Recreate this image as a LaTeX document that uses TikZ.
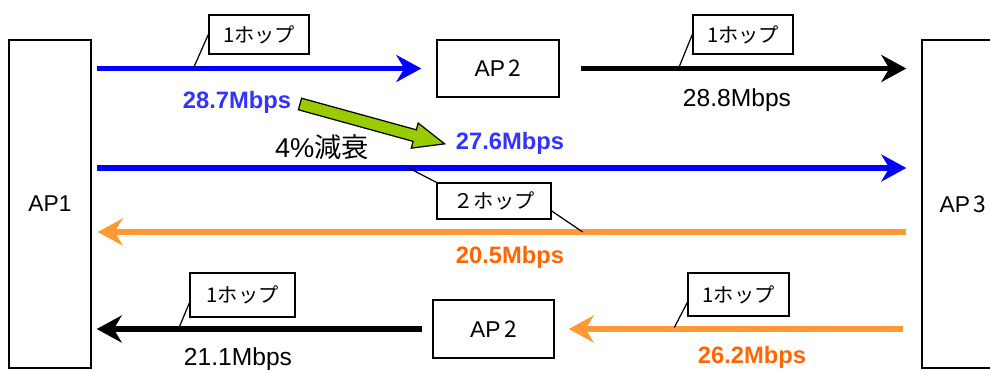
\documentclass[tikz,border=0pt]{standalone}
\usepackage{fontspec}
\setmainfont{Liberation Sans}
\newfontfamily\jp{Noto Sans CJK JP}
\usetikzlibrary{positioning, arrows.meta, calc}
\definecolor{lineblue}{RGB}{0,0,255}
\definecolor{txtblue}{RGB}{51,51,255}
\definecolor{lineorange}{RGB}{255,153,51}
\definecolor{txtorange}{RGB}{255,102,0}
\definecolor{lossgreen}{RGB}{153,204,0}

\begin{document}
\begin{tikzpicture}[
  x=0.02cm, y=-0.02cm,
  >={Stealth[length=0.5cm, width=0.54cm, inset=0.16cm]},
  every node/.style={font=\fontsize{13}{15}\selectfont},
  ap/.style     = {draw, line width=0.8pt, inner sep=0pt, minimum width=2.44cm, minimum height=1.14cm},
  tall/.style   = {ap, minimum width=1.64cm, minimum height=6.56cm},
  hop/.style    = {draw, fill=white, line width=0.8pt, inner sep=0pt, minimum width=2cm, minimum height=0.78cm,
                   font=\jp\fontsize{11.5}{13}\selectfont},
  rate/.style   = {font=\fontsize{13.5}{15}\selectfont\bfseries},
  plain/.style  = {font=\fontsize{14}{16}\selectfont},
  flow/.style   = {->, line width=3pt},
  leader/.style = {line width=0.7pt},
]
  \useasboundingbox (0,0) rectangle (990,369);

  % access points
  \node[tall] (ap1)  at (50,204)    {AP1};
  \node[tall] (ap3)  at (963,204)   {AP\,{\jp 3}};
  \node[ap]   (ap2a) at (498,68.5)  {AP\,{\jp 2}};
  \node[ap, minimum width=2.42cm, minimum height=1.16cm] (ap2b) at (493.5,329) {AP\,{\jp 2}};
  \coordinate (row2) at (0,168);
  \coordinate (row3) at (0,232);

  % flows
  \draw[flow, lineblue, shorten <=0.1cm, shorten >=0.3cm]    (ap1.east |- ap2a.west) -- (ap2a.west);
  \draw[flow, shorten <=0.42cm, shorten >=0.3cm]             (ap2a.east) -- (ap2a.east -| ap3.west);
  \draw[flow, lineblue, shorten <=0.1cm, shorten >=0.3cm]    (ap1.east |- row2) -- (ap3.west |- row2);
  \draw[flow, lineorange, shorten <=0.3cm, shorten >=0.12cm] (ap3.west |- row3) -- (ap1.east |- row3);
  \draw[flow, shorten <=0.2cm, shorten >=0.1cm]              (ap2b.west) -- (ap2b.west -| ap1.east);
  \draw[flow, lineorange, shorten <=0.36cm, shorten >=0.28cm] (ap3.west |- ap2b.east) -- (ap2b.east);

  % hop labels
  \node[hop] (h1) at (259,34.5)  {1ホップ};
  \node[hop] (h2) at (743,34.5)  {1ホップ};
  \node[hop, minimum width=2.28cm, minimum height=0.72cm] (h3) at (494,201) {２ホップ};
  \node[hop, minimum width=2.1cm, minimum height=0.88cm]  (h4) at (242.5,295) {1ホップ};
  \node[hop, minimum width=2.02cm, minimum height=0.86cm] (h5) at (738.5,294.5) {1ホップ};
  \draw[leader] (h1.west) -- ++(-15,34);
  \draw[leader] (h2.west) -- ++(-13,32);
  \draw[leader] (h3.north west) -- ++(-29,-15);
  \draw[leader] ([yshift=-0.2cm]h3.east) -- ++(31,21);
  \draw[leader] ([yshift=-0.16cm]h4.west) -- ++(-10,24);
  \draw[leader] ([yshift=-0.16cm]h5.west) -- ++(-13,25);

  % rates
  \node[rate, text=txtblue]   (r1) at (237,102)   {28.7Mbps};
  \node[rate, text=txtblue]   (r2) at (510,143.5) {27.6Mbps};
  \node[plain]                (r3) at (737,100)   {28.8Mbps};
  \node[rate, text=txtorange] (r4) at (510,257.5) {20.5Mbps};
  \node[plain]                (r5) at (238,359.5) {21.1Mbps};
  \node[rate, text=txtorange] (r6) at (752,357)   {26.2Mbps};
  \node[font=\fontsize{15.5}{17}\selectfont] (loss) at (322,147) {4\%{\jp 減衰}};

  % attenuation arrow
  \begin{scope}[shift={(300,104)}, rotate=-15.4]
    \draw[fill=lossgreen, line width=0.7pt] (0,-6) -- (119,-6) -- (119,-13) -- (150,0) -- (119,13) -- (119,6) -- (0,6) -- cycle;
  \end{scope}
\end{tikzpicture}
\end{document}
